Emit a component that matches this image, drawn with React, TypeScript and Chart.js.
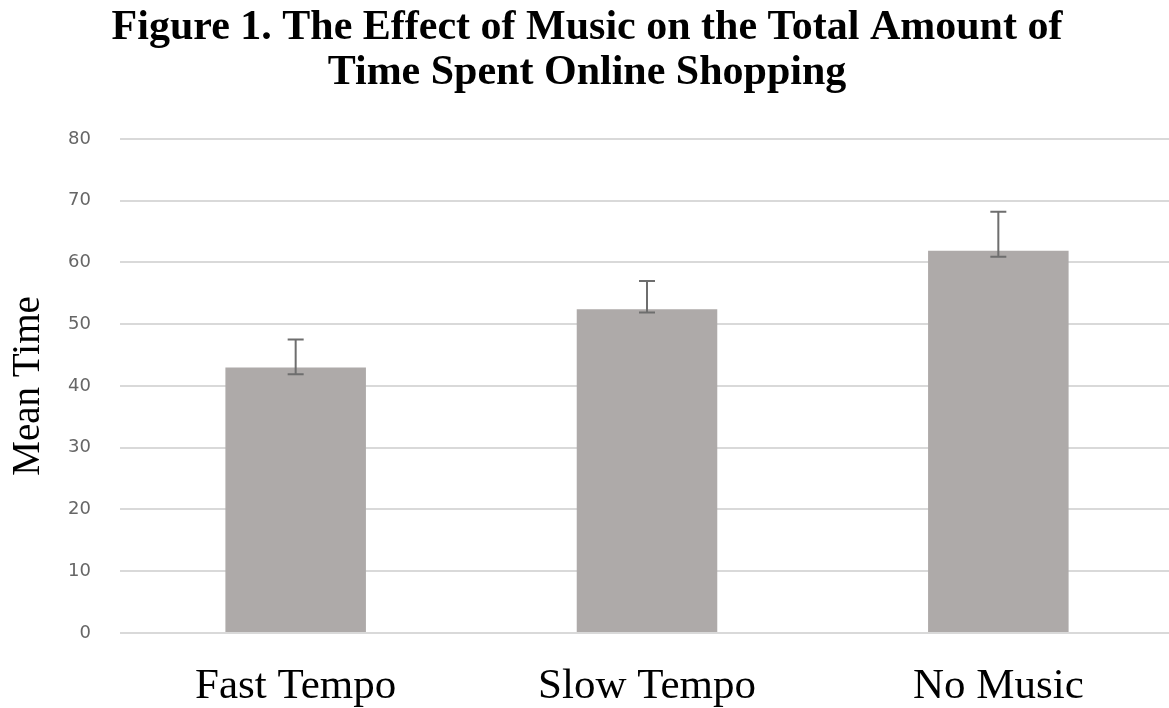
import React, { useEffect, useRef } from "react";
import { Chart, registerables } from "chart.js";

Chart.register(...registerables);

const categories = ["Fast Tempo", "Slow Tempo", "No Music"];
const meanTime = [43, 52.4, 61.9];
const errLow = [41.9, 51.9, 60.9];
const errHigh = [47.5, 57.0, 68.2];
const titleLines = [
  "Figure 1. The Effect of Music on the Total Amount of",
  "Time Spent Online Shopping",
];
const yTitle = "Mean Time";

const errorBarPlugin = {
  id: "errorBars",
  afterDatasetsDraw(chart: any) {
    const ctx = chart.ctx;
    const meta = chart.getDatasetMeta(0);
    const y = chart.scales.y;
    ctx.save();
    ctx.strokeStyle = "#6e6e6e";
    ctx.lineWidth = 2;
    meta.data.forEach((bar: any, i: number) => {
      const x = bar.x;
      const yl = y.getPixelForValue(errLow[i]);
      const yh = y.getPixelForValue(errHigh[i]);
      const cap = 8;
      ctx.beginPath();
      ctx.moveTo(x, yl);
      ctx.lineTo(x, yh);
      ctx.moveTo(x - cap, yl);
      ctx.lineTo(x + cap, yl);
      ctx.moveTo(x - cap, yh);
      ctx.lineTo(x + cap, yh);
      ctx.stroke();
    });
    ctx.restore();
  },
};

export default function App() {
  const ref = useRef<HTMLCanvasElement>(null);
  useEffect(() => {
    if (!ref.current) return;
    const chart = new Chart(ref.current, {
      type: "bar",
      data: {
        labels: categories,
        datasets: [
          {
            data: meanTime,
            backgroundColor: "#aeaaa9",
            borderWidth: 0,
            barPercentage: 0.8,
            categoryPercentage: 0.5,
          },
        ],
      },
      options: {
        animation: false,
        responsive: false,
        maintainAspectRatio: false,
        layout: { padding: { left: 0, right: 0, top: 0, bottom: 0 } },
        plugins: {
          legend: { display: false },
          tooltip: { enabled: false },
          title: {
            display: true,
            text: titleLines,
            color: "#000",
            font: { family: "'Liberation Serif', 'Times New Roman', serif", size: 42, weight: "bold", lineHeight: 1.07 },
            padding: { top: 6, bottom: 43 },
          },
        },
        scales: {
          x: {
            grid: { display: false },
            border: { display: false },
            ticks: {
              color: "#000",
              font: { family: "'Liberation Serif', 'Times New Roman', serif", size: 43, lineHeight: 1.2 },
              padding: 20,
            },
            afterFit: (scale: any) => {
              scale.height = 75;
            },
          },
          y: {
            min: 0,
            max: 80,
            ticks: {
              stepSize: 10,
              color: "#666666",
              font: { family: "'DejaVu Sans', sans-serif", size: 18 },
              padding: 29,
            },
            grid: { color: "#d9d9d9", lineWidth: 2, drawTicks: false },
            border: { display: false },
            title: {
              display: true,
              text: yTitle,
              color: "#000",
              font: { family: "'Liberation Serif', 'Times New Roman', serif", size: 39, lineHeight: 1.2 },
              padding: { top: 5, bottom: 0 },
            },
            afterFit: (scale: any) => {
              scale.width = 120;
            },
          },
        },
      },
      plugins: [errorBarPlugin],
    });
    return () => chart.destroy();
  }, []);
  return (
    <div style={{ position: "fixed", left: 0, top: 0, width: 1169, height: 708, overflow: "hidden", background: "#fff" }}>
      <canvas ref={ref} width={1174} height={708} style={{ display: "block" }} />
    </div>
  );
}
